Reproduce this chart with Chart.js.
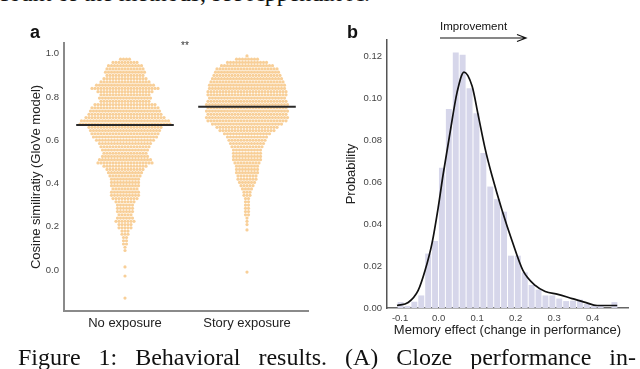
<!DOCTYPE html>
<html>
<head>
<meta charset="utf-8">
<script src="https://cdn.jsdelivr.net/npm/chart.js@4.4.1/dist/chart.umd.min.js"></script>
<style>
html, body { margin: 0; padding: 0; background: #fff; }
#page { position: relative; width: 640px; height: 369px; overflow: hidden; background: #fff; }
canvas { position: absolute; top: 0; }
#chartA { left: 0; }
#chartB { left: 320px; }
.t { position: absolute; white-space: nowrap; font-family: "Liberation Sans", Arial, sans-serif; color: #111; }
.serif { position: absolute; white-space: nowrap; font-family: "Liberation Serif", "Times New Roman", serif; font-size: 24px; line-height: 24px; color: #111; }
</style>
</head>
<body>
<div id="page">
  <div class="serif" style="right:270px; top:-19px;">an account of the methods, see Appendix A.</div>
  <canvas id="chartA" width="320" height="369"></canvas>
  <canvas id="chartB" width="320" height="369"></canvas>
  <div class="t" style="left:30px; top:23px; font-size:18px; line-height:18px; font-weight:bold;">a</div>
  <div class="t" style="left:347px; top:23px; font-size:18px; line-height:18px; font-weight:bold;">b</div>
  <div class="t" style="left:181px; top:41px; font-size:10px; line-height:10px; color:#333;">**</div>
  <div class="t" style="left:440px; top:21px; font-size:11.5px; line-height:11.5px;">Improvement</div>
  <div class="serif" style="left:18px; top:345px; width:618px; text-align:justify; text-align-last:justify;">Figure 1: Behavioral results. (A) Cloze performance in-</div>
</div>
<script>
// panel a : swarm of cosine similarities
const swarmCategories = ['No exposure', 'Story exposure'];
const noExpLevels = [0.975, 0.96, 0.945, 0.93, 0.915, 0.9, 0.885, 0.87, 0.855, 0.84,
  0.825, 0.81, 0.795, 0.78, 0.765, 0.75, 0.735, 0.72, 0.705, 0.69,
  0.675, 0.66, 0.645, 0.63, 0.615, 0.6, 0.585, 0.57, 0.555, 0.54,
  0.525, 0.51, 0.495, 0.48, 0.465, 0.45, 0.435, 0.42, 0.405, 0.39,
  0.375, 0.36, 0.345, 0.33, 0.315, 0.3, 0.285, 0.27, 0.255, 0.24,
  0.225, 0.21, 0.195, 0.18, 0.165, 0.15, 0.135, 0.12, 0.105, 0.09,
  0.014, -0.028, -0.13];
const noExpCounts = [4, 9, 12, 13, 14, 13, 15, 17, 20, 23,
  19, 17, 18, 17, 21, 23, 24, 25, 27, 30,
  31, 25, 24, 23, 22, 20, 18, 17, 16, 15,
  16, 18, 19, 15, 13, 12, 11, 10, 10, 10,
  9, 10, 10, 9, 7, 6, 6, 6, 5, 6,
  7, 5, 5, 3, 3, 2, 2, 2, 1, 1,
  1, 1, 1];
const storyLevels = [0.99, 0.975, 0.96, 0.945, 0.93, 0.915, 0.9, 0.885, 0.87, 0.855,
  0.84, 0.825, 0.81, 0.795, 0.78, 0.765, 0.75, 0.735, 0.72, 0.705,
  0.69, 0.675, 0.66, 0.645, 0.63, 0.615, 0.6, 0.585, 0.57, 0.555,
  0.54, 0.525, 0.51, 0.495, 0.48, 0.465, 0.45, 0.435, 0.42, 0.405,
  0.39, 0.375, 0.36, 0.345, 0.33, 0.315, 0.3, 0.285, 0.27, 0.255,
  0.24, 0.225, 0.21, 0.185, -0.01];
const storyCounts = [1, 8, 14, 18, 21, 22, 23, 24, 25, 26,
  26, 27, 27, 26, 27, 28, 27, 28, 27, 28,
  27, 24, 21, 19, 16, 14, 13, 12, 11, 10,
  10, 10, 10, 9, 8, 8, 8, 7, 7, 6,
  5, 4, 3, 3, 2, 2, 2, 2, 2, 2,
  1, 1, 1, 1, 1];
const groupMeans = [0.671, 0.755];
const simTicks = [0, 0.2, 0.4, 0.6, 0.8, 1.0];

// panel b : histogram + density of memory effect
const histCenters = [-0.0988, -0.0809, -0.0630, -0.0450, -0.0271, -0.0092, 0.0087, 0.0266, 0.0446, 0.0625,
  0.0804, 0.0983, 0.1162, 0.1342, 0.1521, 0.1700, 0.1879, 0.2058, 0.2238, 0.2417,
  0.2596, 0.2775, 0.2954, 0.3134, 0.3313, 0.3492, 0.3671, 0.3850, 0.4030, 0.4209,
  0.4388, 0.4567];
const histProb = [0.0028, 0.0010, 0.0030, 0.0060, 0.0260, 0.0320, 0.0670, 0.0950, 0.1220, 0.1210,
  0.1050, 0.0930, 0.0740, 0.0580, 0.0520, 0.0460, 0.0250, 0.0250, 0.0170, 0.0110,
  0.0088, 0.0060, 0.0060, 0.0045, 0.0033, 0.0035, 0.0040, 0.0020, 0.0010, 0.0010,
  0.0000, 0.0028];
const kdeX = [-0.108, -0.079, -0.053, -0.035, -0.017, -0.001, 0.012, 0.030, 0.048, 0.066,
  0.087, 0.103, 0.121, 0.139, 0.165, 0.191, 0.219, 0.251, 0.277, 0.310,
  0.347, 0.381, 0.412, 0.464];
const kdeY = [0.0012, 0.0026, 0.0084, 0.018, 0.031, 0.048, 0.064, 0.084, 0.103, 0.1127,
  0.106, 0.092, 0.076, 0.063, 0.0466, 0.032, 0.018, 0.0108, 0.0079, 0.0065,
  0.0045, 0.0027, 0.0012, 0.0012];
const probTicks = [0, 0.02, 0.04, 0.06, 0.08, 0.10, 0.12];
const effectTicks = [-0.1, 0, 0.1, 0.2, 0.3, 0.4];

const sans = '"Liberation Sans", Arial, sans-serif';
const swarmStep = 0.0246;   // horizontal gap between dots, in category units

function swarmPoints(cat, levels, counts) {
  let pts = [];
  levels.forEach(function(y, r) {
    let n = counts[r];
    for (let j = 0; j < n; j++) {
      pts.push({ x: cat + (j - (n - 1) / 2) * swarmStep, y: y });
    }
  });
  return pts;
}

function meanLine(cat, m) {
  return [{ x: cat - 0.4, y: m }, { x: cat + 0.4, y: m }];
}

let swarmStyle = {
  pointRadius: 1.6,
  pointBorderWidth: 0,
  pointBackgroundColor: '#f8cf98',
  showLine: false,
  order: 1
};
let meanStyle = {
  showLine: true,
  pointRadius: 0,
  borderColor: '#2a2a2a',
  borderWidth: 2,
  order: 0
};

new Chart(document.getElementById('chartA'), {
  type: 'scatter',
  data: {
    datasets: [
      Object.assign({ data: swarmPoints(0, noExpLevels, noExpCounts) }, swarmStyle),
      Object.assign({ data: swarmPoints(1, storyLevels, storyCounts) }, swarmStyle),
      Object.assign({ data: meanLine(0, groupMeans[0]) }, meanStyle),
      Object.assign({ data: meanLine(1, groupMeans[1]) }, meanStyle)
    ]
  },
  options: {
    responsive: false,
    animation: false,
    devicePixelRatio: 1,
    layout: { padding: { left: 0, top: 43, right: 12, bottom: 0 } },
    plugins: { legend: { display: false }, tooltip: { enabled: false } },
    scales: {
      x: {
        type: 'linear', min: -0.5, max: 1.5,
        grid: { display: false, drawTicks: false },
        border: { display: true, color: '#8a8a8a', width: 2 },
        afterBuildTicks: s => { s.ticks = [0, 1].map(v => ({ value: v })); },
        afterFit: s => { s.height = 58; },
        ticks: {
          padding: 5, color: '#222', maxRotation: 0,
          font: { family: sans, size: 13 },
          callback: v => swarmCategories[v]
        }
      },
      y: {
        type: 'linear', min: -0.19, max: 1.05,
        grid: { display: false, drawTicks: false },
        border: { display: true, color: '#8a8a8a', width: 2 },
        afterBuildTicks: s => { s.ticks = simTicks.map(v => ({ value: v })); },
        afterFit: s => { s.width = 64; },
        ticks: {
          padding: 5, color: '#444',
          font: { family: sans, size: 9.5 },
          callback: v => v.toFixed(1)
        },
        title: {
          display: true, text: 'Cosine similiratiy (GloVe model)',
          color: '#222', padding: { top: 29, bottom: 0 },
          font: { family: sans, size: 13 }
        }
      }
    }
  }
});

// arrow over panel b
const arrowPlugin = {
  id: 'arrow',
  afterDraw(chart) {
    let ctx = chart.ctx;
    ctx.save();
    ctx.strokeStyle = '#111';
    ctx.lineWidth = 1.2;
    ctx.beginPath();
    ctx.moveTo(120, 38);
    ctx.lineTo(206, 38);
    ctx.moveTo(197, 34.5);
    ctx.lineTo(206, 38);
    ctx.lineTo(197, 41.5);
    ctx.stroke();
    ctx.restore();
  }
};

new Chart(document.getElementById('chartB'), {
  type: 'bar',
  data: {
    datasets: [
      {
        type: 'line',
        data: kdeX.map((x, i) => ({ x: x, y: kdeY[i] })),
        borderColor: '#111',
        borderWidth: 1.7,
        pointRadius: 0,
        tension: 0.4,
        cubicInterpolationMode: 'monotone',
        order: 0
      },
      {
        type: 'bar',
        data: histCenters.map((x, i) => ({ x: x, y: histProb[i] })),
        backgroundColor: '#d6d6ea',
        borderWidth: 0,
        barPercentage: 0.86,
        categoryPercentage: 1,
        order: 1
      }
    ]
  },
  options: {
    responsive: false,
    animation: false,
    devicePixelRatio: 1,
    layout: { padding: { left: 0, top: 40, right: 12, bottom: 0 } },
    plugins: { legend: { display: false }, tooltip: { enabled: false } },
    scales: {
      x: {
        type: 'linear', min: -0.134, max: 0.492, offset: false,
        grid: { display: false, drawTicks: false },
        border: { display: true, color: '#666', width: 1.5 },
        afterBuildTicks: s => { s.ticks = effectTicks.map(v => ({ value: v })); },
        afterFit: s => { s.height = 61; },
        ticks: {
          padding: 5, color: '#444', maxRotation: 0,
          font: { family: sans, size: 9.5 },
          callback: v => v.toFixed(1)
        },
        title: {
          display: true, text: 'Memory effect (change in performance)',
          color: '#222', padding: { top: 0, bottom: 31 },
          font: { family: sans, size: 13 }
        }
      },
      y: {
        type: 'linear', min: 0, max: 0.128,
        grid: { display: false, drawTicks: false },
        border: { display: true, color: '#555', width: 1.5 },
        afterBuildTicks: s => { s.ticks = probTicks.map(v => ({ value: v })); },
        afterFit: s => { s.width = 67; },
        ticks: {
          padding: 5, color: '#444',
          font: { family: sans, size: 9.5 },
          callback: v => v.toFixed(2)
        },
        title: {
          display: true, text: 'Probability',
          color: '#222', padding: { top: 24, bottom: 0 },
          font: { family: sans, size: 13 }
        }
      }
    }
  },
  plugins: [arrowPlugin]
});
</script>
</body>
</html>
